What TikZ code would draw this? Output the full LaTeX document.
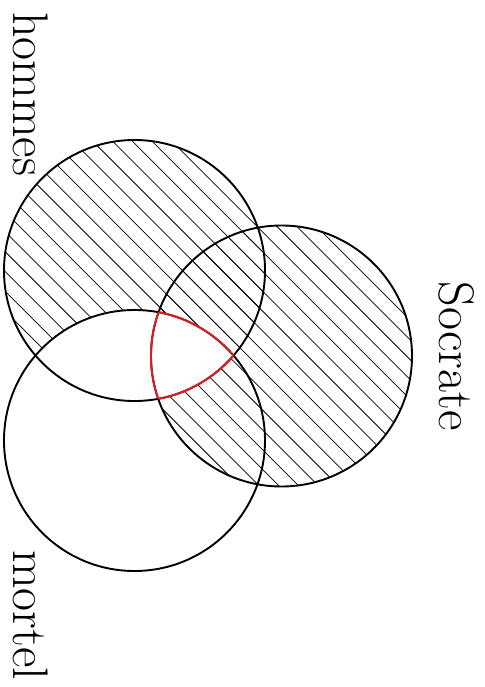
\documentclass[tikz,border=0pt]{standalone}
\usepackage{fontspec}
\definecolor{arcred}{RGB}{222,28,36}
\begin{document}
\begin{tikzpicture}[x=1pt, y=-1pt, line width=1.9pt,
    hatch/.style={line width=0.75pt},
    setlabel/.style={font=\fontsize{50}{55}\selectfont, rotate=-90, inner sep=0pt, anchor=base}]
    \useasboundingbox (0,0) rectangle (484,687);
    \def\hommes{(134.5,270.5) circle[radius=130.5pt]}
    \def\mortel{(134.5,440.5) circle[radius=130.5pt]}
    \def\socrate{(281.5,356) circle[radius=130.5pt]}
    \def\hatchlines{\foreach \k in {-31,...,15} {
            \draw[hatch] (\k*19.8+10.9, 0) -- ++(700,700);
        }}

    % hommes without mortel
    \begin{scope}
        \clip \hommes;
        \hatchlines
    \end{scope}
    \begin{scope}
        \clip \hommes;
        \fill[white] \mortel;
    \end{scope}

    % Socrate without the common part
    \begin{scope}
        \clip \socrate;
        \hatchlines
    \end{scope}
    \begin{scope}
        \clip \socrate;
        \clip \hommes;
        \fill[white] \mortel;
    \end{scope}

    % the three sets
    \draw \hommes;
    \draw \mortel;
    \draw \socrate;

    % common part in red
    \begin{scope}
        \clip \hommes;
        \clip \mortel;
        \draw[arcred] \socrate;
    \end{scope}
    \begin{scope}
        \clip \hommes;
        \clip \socrate;
        \draw[arcred] \mortel;
    \end{scope}
    \begin{scope}
        \clip \mortel;
        \clip \socrate;
        \draw[arcred] \hommes;
    \end{scope}

    % labels
    \node[setlabel] (hommes) at (13, 94) {hommes};
    \node[setlabel] (socrate) at (439, 356) {Socrate};
    \node[setlabel] (mortel) at (13, 615) {mortel};
\end{tikzpicture}
\end{document}
